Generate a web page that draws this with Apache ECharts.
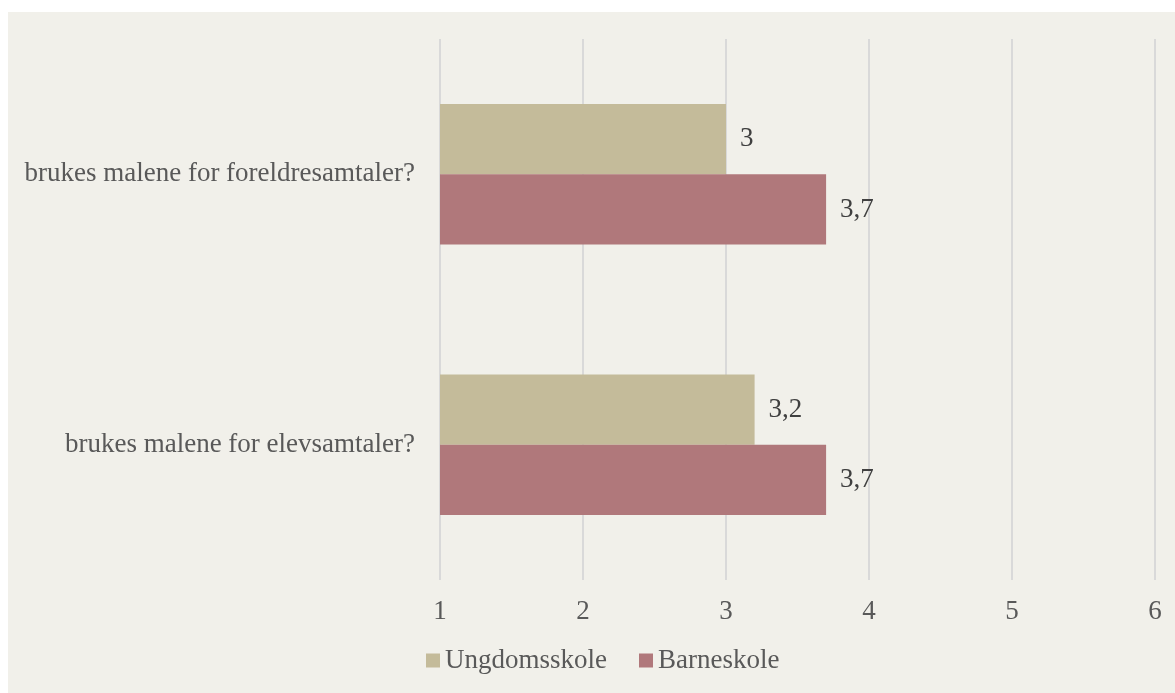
<!DOCTYPE html>
<html>
<head>
<meta charset="utf-8">
<script src="https://cdn.jsdelivr.net/npm/echarts@6/dist/echarts.min.js"></script>
<style>
  html, body { margin: 0; padding: 0; background: #ffffff; }
  #chart { position: absolute; left: 8px; top: 12px; width: 1167px; height: 681px; background: #f1f0ea; }
</style>
</head>
<body>
<div id="chart"></div>
<script>
const categories = ['brukes malene for foreldresamtaler?', 'brukes malene for elevsamtaler?'];
const ungdomsskole = [3, 3.2];
const barneskole = [3.7, 3.7];
const xTicks = [1, 2, 3, 4, 5, 6];

const chart = echarts.init(document.getElementById('chart'));
const font = '"Liberation Serif", "Times New Roman", serif';
const fmt = p => String(p.value).replace('.', ',');
const size = 27;

chart.setOption({
  textStyle: { fontFamily: font },
  animation: false,
  grid: { left: 432, right: 20, top: 27, bottom: 113 },
  legend: {
    bottom: 14,
    left: 413,
    itemWidth: 14,
    itemHeight: 14,
    itemGap: 32,
    icon: 'rect',
    textStyle: { fontFamily: font, fontSize: size, color: '#595959' },
    data: ['Ungdomsskole', 'Barneskole']
  },
  xAxis: {
    type: 'value',
    min: xTicks[0],
    max: xTicks[xTicks.length - 1],
    interval: 1,
    axisLine: { show: false },
    axisTick: { show: false },
    splitLine: { lineStyle: { color: '#d9d9d9', width: 2 } },
    axisLabel: { fontFamily: font, fontSize: size, color: '#595959', margin: 18 }
  },
  yAxis: {
    type: 'category',
    inverse: true,
    data: categories,
    axisLine: { show: false },
    axisTick: { show: false },
    axisLabel: { fontFamily: font, fontSize: size, color: '#595959', margin: 25 }
  },
  series: [
    {
      name: 'Ungdomsskole',
      type: 'bar',
      data: ungdomsskole,
      barGap: 0,
      barCategoryGap: '48%',
      itemStyle: { color: '#c4bb9a' },
      label: { show: true, position: 'right', distance: 14, formatter: fmt, fontFamily: font, fontSize: size, color: '#404040' }
    },
    {
      name: 'Barneskole',
      type: 'bar',
      data: barneskole,
      barGap: 0,
      barCategoryGap: '48%',
      itemStyle: { color: '#b0787b' },
      label: { show: true, position: 'right', distance: 14, formatter: fmt, fontFamily: font, fontSize: size, color: '#404040' }
    }
  ]
});
</script>
</body>
</html>
